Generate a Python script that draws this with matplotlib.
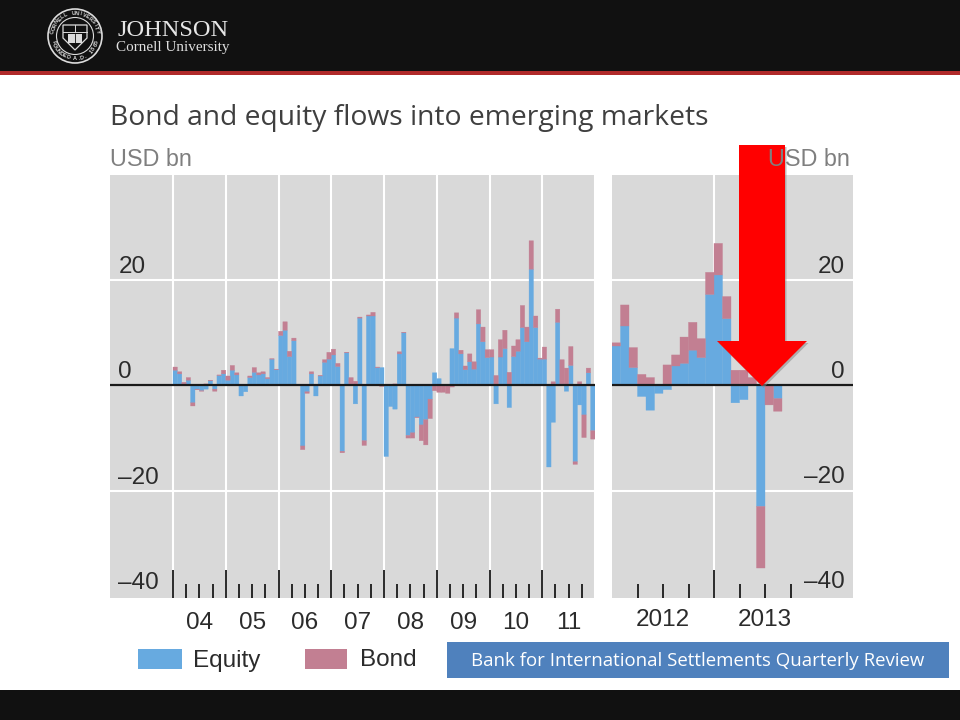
import numpy as np
import matplotlib
matplotlib.use("Agg")
import matplotlib.pyplot as plt
from matplotlib.patches import Rectangle, Polygon, Circle

plt.rcParams['font.family'] = ['Liberation Sans', 'DejaVu Sans']

# ---- data (USD bn, monthly) ----
equity_hist = [
 2.9,2.2,.3,1.0,-3.3,-.7,-1.0,-.7,.9,-.7,1.9,2.2,
 1.0,2.9,2.0,-2.0,-1.2,1.5,2.5,2.0,2.2,1.3,5.0,3.0,
 9.5,10.5,5.5,8.5,0.1,-11.5,-1.2,2.2,-2.0,1.8,4.4,5.0,
 5.8,3.6,-12.5,6.2,.3,-3.5,12.8,-10.5,13.2,13.2,3.4,3.4,
 -13.5,-4.0,-4.5,6.0,10.0,-9.5,-9.0,-6.0,-7.5,-6.5,-2.6,2.4,
 1.3,0,0,7.0,12.8,6.0,3.0,4.5,3.1,11.7,8.3,5.3,
 5.4,-3.5,5.4,7.0,-4.2,5.5,6.5,11.0,8.3,22.1,11.0,5.0,
 5.0,-15.5,-7.0,12.0,.3,-1.1,3.8,-14.5,-3.7,-5.6,2.4,-8.6]
bond_hist = [
 .6,.4,.3,.5,-.6,-.1,-.1,.3,.1,-.4,.1,.7,
 .8,.9,.4,.2,.2,.3,.9,.4,.4,.2,.1,.1,
 .8,1.6,1.0,.5,.1,-.7,-.3,.4,.1,.1,.5,1.3,
 1.1,.6,-.3,.1,1.2,.8,.2,-.9,.2,.7,.1,-.2,
 .2,.1,.3,.4,.1,-.5,-1.0,-.1,-3.0,-4.8,-3.7,-1.0,
 -1.3,-1.3,-1.5,-.3,1.0,.7,.7,1.5,1.4,2.7,2.8,1.5,
 1.4,1.9,3.3,3.5,2.5,2.0,2.2,4.2,2.8,5.4,2.2,.2,
 2.3,.0,.7,2.5,4.6,3.3,3.6,-.5,.7,-4.3,.9,-1.6]
equity_recent = [7.5,11.3,3.4,-2.1,-4.7,-1.5,-.8,3.7,4.2,6.7,5.3,17.3,
                 21.0,12.7,-3.3,-2.7,0,-23.0,0,-2.5]
bond_recent = [.6,4.0,3.8,2.1,1.5,.1,3.9,2.1,5.0,5.3,3.6,4.2,
               6.0,4.2,2.9,2.9,1.5,-11.7,-3.7,-2.4]
year_labels = ['04','05','06','07','08','09','10','11']
recent_labels = ['2012','2013']
y_ticks = [20,0,-20,-40]
y_tick_labels = ['20','0','\u201320','\u201340']

BLUE, BOND = '#67aae0', '#c27f92'
PANEL = '#d9d9d9'
TXT = '#2b2b2b'
W, H = 960, 720

fig = plt.figure(figsize=(9.6,7.2), dpi=100, facecolor='white')

def axpx(x0,y0,x1,y1,z=1):
    return fig.add_axes([x0/W,1-y1/H,(x1-x0)/W,(y1-y0)/H],zorder=z)

def stacked(ax,x,eq,bd,width):
    eq=np.array(eq,float); bd=np.array(bd,float)
    base=np.where(np.sign(eq)==np.sign(bd),eq,0)
    for r in ax.bar(x,eq,width=width,color=BLUE,edgecolor=BLUE,lw=.25,zorder=3,align='edge'):
        r.set_snap(False)
    for r in ax.bar(x,bd,bottom=base,width=width,color=BOND,edgecolor=BOND,lw=.25,zorder=3,align='edge'):
        r.set_snap(False)

def style(ax,xlim):
    ax.set_facecolor(PANEL)
    ax.set_xlim(*xlim); ax.set_ylim(-40.4,40)
    for s in ax.spines.values(): s.set_visible(False)
    ax.set_yticks([])
    ax.axhline(0,color='#1a1a1a',lw=1.6,zorder=4)
    for v in (20,-20):
        ax.axhline(v,color='white',lw=1.5,zorder=1)
    ax.tick_params(axis='x',which='major',direction='in',length=20,width=1.3,color='#1a1a1a',labelbottom=False)
    ax.tick_params(axis='x',which='minor',direction='in',length=10,width=1.3,color='#1a1a1a')

# left panel
ax1=axpx(110,175,595,598)
px1=52.75
style(ax1,(2004-63/px1,2012))
x1=2004+np.arange(len(equity_hist))/12
stacked(ax1,x1,equity_hist,bond_hist,1/12)
yrs=np.arange(2004,2012)
for y in list(yrs)+[2012]:
    ax1.axvline(y,color='white',lw=1.5,zorder=1)
ax1.set_xticks(yrs)
ax1.set_xticks([y+q/4 for y in yrs for q in (1,2,3)],minor=True)
tr=ax1.get_xaxis_transform()
for y,l in zip(yrs,year_labels):
    ax1.text(y+.5,-0.059,l,transform=tr,ha='center',va='center',fontsize=17.5,color=TXT,clip_on=False)

# right panel
ax2=axpx(612,175,853,598)
px2=102.0
style(ax2,(2012,2012+241/px2))
x2=2012+np.arange(len(equity_recent))/12
stacked(ax2,x2,equity_recent,bond_recent,1/12)
ax2.axvline(2013,color='white',lw=1.5,zorder=1)
ax2.set_xticks([2013])
ax2.set_xticks([2012.25,2012.5,2012.75,2013.25,2013.5,2013.75],minor=True)
tr2=ax2.get_xaxis_transform()
for y,l in zip((2012.5,2013.5),recent_labels):
    ax2.text(y,-0.053,l,transform=tr2,ha='center',va='center',fontsize=17.5,color=TXT,clip_on=False)

# y labels, inside the panels
for v,l in zip(y_ticks,y_tick_labels):
    ax1.annotate(l,xy=(0,v),xycoords=ax1.get_yaxis_transform(),xytext=(6,9.4),textcoords='offset points',
                 ha='left',va='center',fontsize=17.5,color=TXT,zorder=5)
    ax2.annotate(l,xy=(1,v),xycoords=ax2.get_yaxis_transform(),xytext=(-6,9.8),textcoords='offset points',
                 ha='right',va='center',fontsize=17.5,color=TXT,zorder=5)

# decoration layer in pixel coordinates
deco=fig.add_axes([0,0,1,1],zorder=10)
deco.set_xlim(0,W); deco.set_ylim(H,0); deco.axis('off'); deco.patch.set_alpha(0)
R=lambda x,y,w,h,c,**k: deco.add_patch(Rectangle((x,y),w,h,fc=c,ec='none',**k))
R(0,0,W,71,'#111111'); R(0,71,W,3.5,'#b02a2a'); R(0,690,W,30,'#111111')

# logo
cx,cy=75,36
LOGO='#dcdcdc'
deco.add_patch(Circle((cx,cy),27,fc='none',ec=LOGO,lw=1.2))
deco.add_patch(Circle((cx,cy),18.5,fc='none',ec=LOGO,lw=.8))
deco.add_patch(Polygon([(63,25),(87,25),(87,38),(75,50),(63,38)],fc='none',ec=LOGO,lw=.9))
deco.plot([63,87],[32,32],color=LOGO,lw=.7)
deco.plot([75,75],[25,32],color=LOGO,lw=.7)
R(68,34,14,9,LOGO)
deco.plot([75,75],[34,43],color='#111111',lw=.6)
def ring(s,a0,a1,outer=True):
    for ch,a in zip(s,np.linspace(a0,a1,len(s))):
        t=np.radians(a)
        rot=(a-90) if outer else (a+90)
        deco.text(cx+22.7*np.cos(t),cy-22.7*np.sin(t),ch,fontsize=4,color=LOGO,ha='center',va='center',
                  rotation=rot,rotation_mode='anchor',fontweight='bold')
ring('CORNELL UNIVERSITY',170,10)
ring('FOUNDED A.D. 1865',195,345,outer=False)
deco.text(117,31,'JOHNSON',family='Liberation Serif',fontsize=17.6,color='#e6e6e6',ha='left',va='center')
deco.text(116,48,'Cornell University',family='Liberation Serif',fontsize=10.9,color='#e0e0e0',ha='left',va='center')

# titles
deco.text(110,118,'Bond and equity flows into emerging markets',fontsize=20.3,color='#3f3f3f',ha='left',va='center',family='Open Sans')
deco.text(110,159,'USD bn',fontsize=16.8,color='#7f7f7f',ha='left',va='center')
deco.text(850,159,'USD bn',fontsize=16.8,color='#7f7f7f',ha='right',va='center')

# legend
R(138,649,44,20,BLUE); deco.text(193,661,'Equity',fontsize=17.5,color=TXT,ha='left',va='center')
R(305,649,42,20,BOND); deco.text(360,660,'Bond',fontsize=17.5,color=TXT,ha='left',va='center')

# source box
R(447,642,502,36,'#4f81bd')
deco.text(698,661,'Bank for International Settlements Quarterly Review',fontsize=13.4,color='white',
          ha='center',va='center',family='Open Sans')

# arrow
arrow=[(739,145),(785,145),(785,341),(807,341),(762,386),(717,341),(739,341)]
deco.add_patch(Polygon([(x+1.5,y+2) for x,y in arrow],fc='#8a8a8a',ec='none',alpha=.55))
deco.add_patch(Polygon(arrow,fc='#ff0000',ec='none'))

fig.savefig('out.png',dpi=100,facecolor='white')
